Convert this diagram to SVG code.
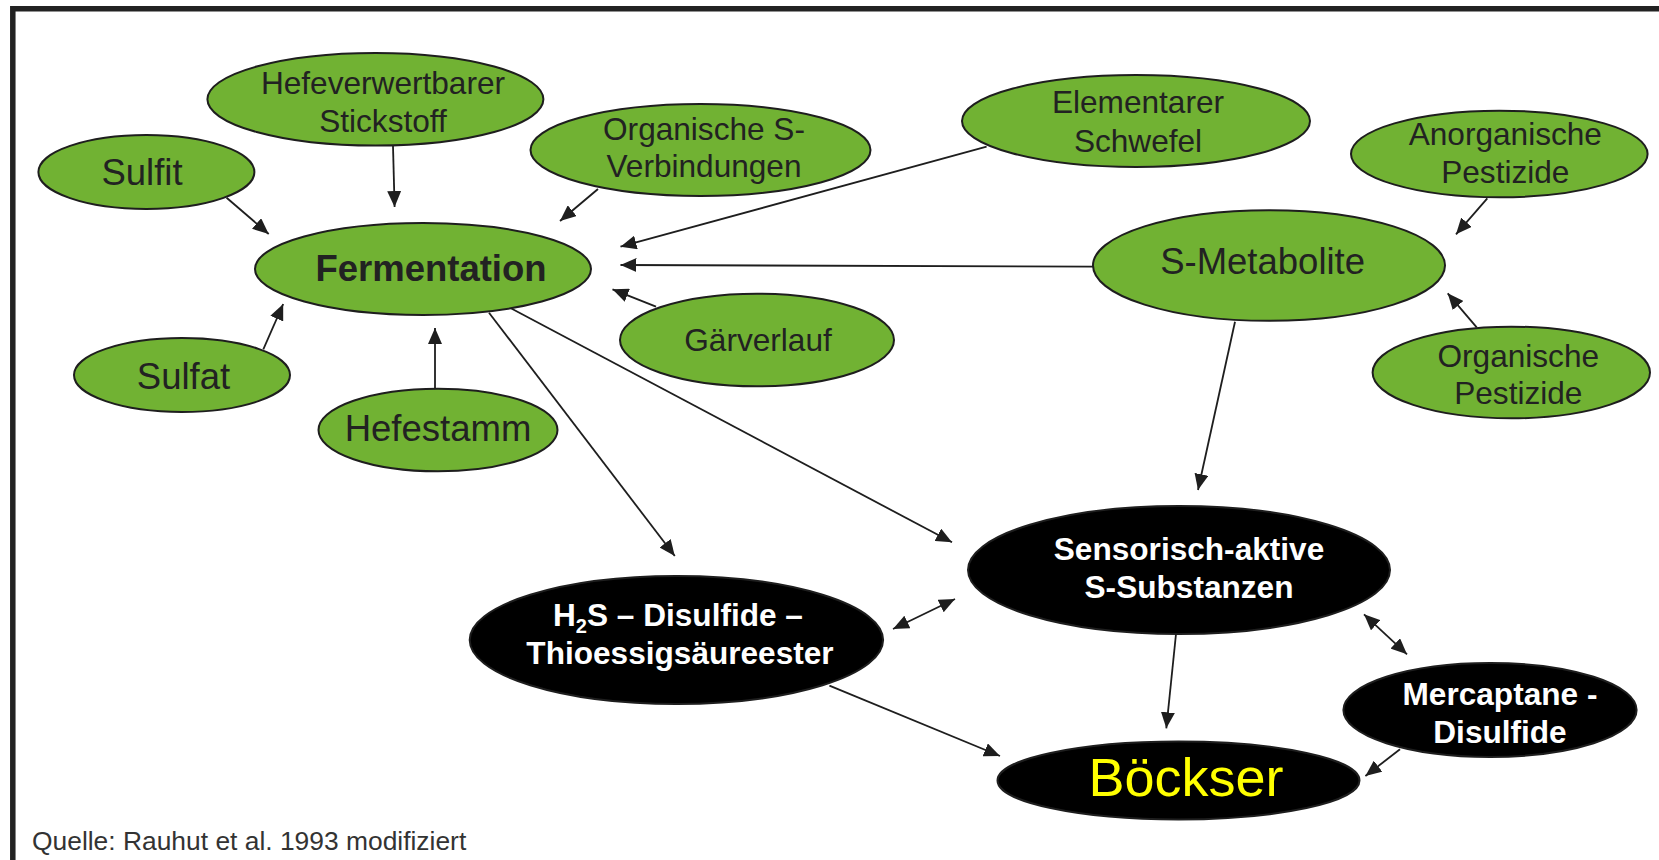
<svg xmlns="http://www.w3.org/2000/svg" width="1659" height="860" viewBox="0 0 1659 860">
<style>
.g{fill:#71b233;stroke:#1e1e1e;stroke-width:2}
.b{fill:#000;stroke:#1e1e1e;stroke-width:2}
.t{font-family:"Liberation Sans",Arial,sans-serif;fill:#222;text-anchor:middle}
.w{font-family:"Liberation Sans",Arial,sans-serif;fill:#fff;font-weight:bold;text-anchor:middle;font-size:31.6px}
.c{stroke:#1e1e1e;stroke-width:1.8;fill:none;marker-end:url(#ah)}
.d{marker-start:url(#ah)}
</style>
<defs>
<marker id="ah" markerUnits="userSpaceOnUse" markerWidth="16" markerHeight="14" refX="16" refY="7" orient="auto-start-reverse">
<path d="M0,0 L16,7 L0,14 z" fill="#1e1e1e"/>
</marker>
</defs>
<rect width="1659" height="860" fill="#fff"/>
<path d="M12.8,860 V8.8 H1659" fill="none" stroke="#222" stroke-width="5.5"/>
<g id="connectors">
<line class="c" x1="393" y1="146" x2="394.6" y2="207"/>
<line class="c" x1="226.6" y1="197.7" x2="268.7" y2="234"/>
<line class="c" x1="263.3" y1="349.3" x2="283.2" y2="304"/>
<line class="c" x1="435" y1="389" x2="435" y2="328"/>
<line class="c" x1="598" y1="189" x2="560" y2="221"/>
<line class="c" x1="986.6" y1="146.7" x2="620.5" y2="246.7"/>
<line class="c" x1="1093" y1="266.7" x2="620.5" y2="265"/>
<line class="c" x1="656" y1="306.7" x2="612.5" y2="289.3"/>
<line class="c" x1="1487.3" y1="198.3" x2="1456" y2="234.3"/>
<line class="c" x1="1476.7" y1="327.3" x2="1447.7" y2="293.3"/>
<line class="c" x1="489" y1="312.7" x2="674.8" y2="556"/>
<line class="c" x1="509" y1="307.3" x2="952" y2="542.3"/>
<line class="c" x1="1235" y1="321.7" x2="1198" y2="490"/>
<line class="c d" x1="893" y1="629" x2="955" y2="599"/>
<line class="c" x1="1176" y1="634" x2="1166.3" y2="728.3"/>
<line class="c d" x1="1364" y1="614.3" x2="1407" y2="654.3"/>
<line class="c" x1="1400" y1="749.3" x2="1365.4" y2="776"/>
<line class="c" x1="829.4" y1="685.7" x2="1000" y2="756"/>
</g>
<g id="hefeverwertbarer">
<ellipse class="g" cx="375.4" cy="99.3" rx="168" ry="46.3"/>
<text class="t" font-size="31.6" x="383" y="94">Hefeverwertbarer</text>
<text class="t" font-size="31.6" x="383" y="132">Stickstoff</text>
</g>
<g id="sulfit">
<ellipse class="g" cx="146.4" cy="172" rx="108" ry="37"/>
<text class="t" font-size="36.5" x="142" y="185">Sulfit</text>
</g>
<g id="fermentation">
<ellipse class="g" cx="423" cy="269" rx="168" ry="46"/>
<text class="t" font-size="36.5" font-weight="bold" x="431" y="281">Fermentation</text>
</g>
<g id="sulfat">
<ellipse class="g" cx="182" cy="375" rx="108" ry="37"/>
<text class="t" font-size="36.5" x="183.5" y="389">Sulfat</text>
</g>
<g id="hefestamm">
<ellipse class="g" cx="438" cy="430" rx="119.5" ry="41.3"/>
<text class="t" font-size="36.5" x="438" y="441">Hefestamm</text>
</g>
<g id="organische-s">
<ellipse class="g" cx="700.5" cy="150" rx="170" ry="46"/>
<text class="t" font-size="31.6" x="704" y="140">Organische S-</text>
<text class="t" font-size="31.6" x="704" y="177">Verbindungen</text>
</g>
<g id="elementarer">
<ellipse class="g" cx="1136" cy="121" rx="174" ry="46"/>
<text class="t" font-size="31.6" x="1138" y="113">Elementarer</text>
<text class="t" font-size="31.6" x="1138" y="152">Schwefel</text>
</g>
<g id="gaerverlauf">
<ellipse class="g" cx="757" cy="340" rx="137" ry="46.3"/>
<text class="t" font-size="31.6" x="758" y="351">Gärverlauf</text>
</g>
<g id="s-metabolite">
<ellipse class="g" cx="1269" cy="265.5" rx="176" ry="55.3"/>
<text class="t" font-size="36.5" x="1262.6" y="274">S-Metabolite</text>
</g>
<g id="anorganische-pestizide">
<ellipse class="g" cx="1499.3" cy="154" rx="148.3" ry="43.3"/>
<text class="t" font-size="31.6" x="1505.3" y="145">Anorganische</text>
<text class="t" font-size="31.6" x="1505.3" y="183">Pestizide</text>
</g>
<g id="organische-pestizide">
<ellipse class="g" cx="1511.3" cy="372.5" rx="138.7" ry="45.8"/>
<text class="t" font-size="31.6" x="1518.3" y="367">Organische</text>
<text class="t" font-size="31.6" x="1518.3" y="404">Pestizide</text>
</g>
<g id="h2s">
<ellipse class="b" cx="676.4" cy="640" rx="206.7" ry="64"/>
<text class="w" x="678" y="626">H<tspan font-size="20" dy="7">2</tspan><tspan dy="-7">S – Disulfide –</tspan></text>
<text class="w" x="680" y="664">Thioessigsäureester</text>
</g>
<g id="sensorisch">
<ellipse class="b" cx="1179" cy="570" rx="211" ry="64"/>
<text class="w" x="1189" y="560">Sensorisch-aktive</text>
<text class="w" x="1189" y="598">S-Substanzen</text>
</g>
<g id="boeckser">
<ellipse class="b" cx="1178.5" cy="780.5" rx="181" ry="39"/>
<text x="1186" y="796" font-family="'Liberation Sans',Arial,sans-serif" font-size="54" fill="#ffff00" text-anchor="middle">Böckser</text>
</g>
<g id="mercaptane">
<ellipse class="b" cx="1490" cy="710" rx="146.6" ry="47"/>
<text class="w" x="1500" y="705">Mercaptane -</text>
<text class="w" x="1500" y="743">Disulfide</text>
</g>
<text x="32" y="850" font-family="'Liberation Sans',Arial,sans-serif" font-size="26.4" fill="#333">Quelle: Rauhut et al. 1993 modifiziert</text>
</svg>
